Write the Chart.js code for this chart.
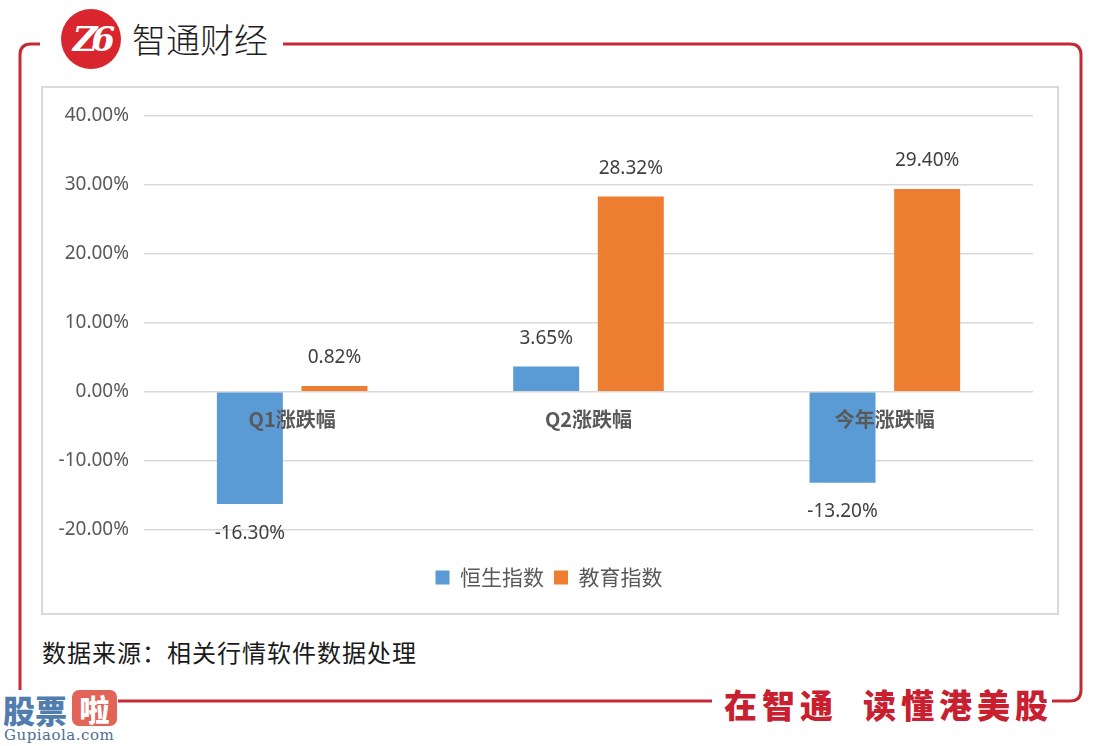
<!DOCTYPE html>
<html lang="zh">
<head>
<meta charset="UTF-8">
<title>恒生指数 vs 教育指数 涨跌幅</title>
<script src="https://cdn.jsdelivr.net/npm/chart.js"></script>
<style>
  body { margin: 0; background: #fff; }
  #page { position: relative; width: 1112px; height: 746px; overflow: hidden; background: #fff; }
  #frame { position: absolute; left: 0; top: 0; }
  #logo { position: absolute; left: 61px; top: 9px; width: 60px; height: 60px; border-radius: 50%; background: #d9262e;
          color: #fff; font: italic bold 34px "DejaVu Serif"; text-align: center; line-height: 60px; letter-spacing: -6px; }
  #brand { position: absolute; left: 132px; top: 14px; font: 300 34px "Noto Sans CJK SC"; color: #1f1f1f; }
  #box { position: absolute; left: 41px; top: 86px; width: 1018px; height: 529px; box-sizing: border-box; border: 2px solid #d9d9d9; }
  #wrap { position: absolute; left: 43px; top: 88px; width: 1014px; height: 525px; }
  #source { position: absolute; left: 42px; top: 634px; font: 24px "Noto Sans CJK SC"; color: #1a1a1a; letter-spacing: 1px; }
  #slogan { position: absolute; left: 724px; top: 680px; font: 900 33px "Noto Sans CJK SC"; color: #c8202f; letter-spacing: 5px; white-space: pre; }
  #wm1 { position: absolute; left: 3px; top: 686px; font: 900 32px "Noto Sans CJK SC"; color: #3f6fa6; opacity: 0.9; }
  #wm2 { position: absolute; left: 72px; top: 690px; width: 45px; height: 36px; border-radius: 7px; background: #e0574c;
         font: 900 30px "Noto Sans CJK SC"; color: #fff; text-align: center; line-height: 36px; opacity: 0.92; }
  #wm3 { position: absolute; left: 4px; top: 726px; font: 15px "DejaVu Serif"; color: #4d6f93; letter-spacing: 0.5px; }
</style>
</head>
<body>
<div id="page">
  <svg id="frame" width="1112" height="746">
    <g fill="none" stroke="#c42a35" stroke-width="3">
      <path d="M 40 44 L 31 44 Q 20 44 20 55 L 20 690" />
      <path d="M 283 44 L 1070 44 Q 1081 44 1081 55 L 1081 690 Q 1081 701 1070 701 L 1052 701" />
      <path d="M 118 701 L 712 701" />
    </g>
  </svg>
  <div id="logo">Z6</div>
  <div id="brand">智通财经</div>
  <div id="box"></div>
  <div id="wrap"><canvas id="chart" width="1014" height="525"></canvas></div>
  <div id="source">数据来源：相关行情软件数据处理</div>
  <div id="slogan">在智通  读懂港美股</div>
  <div id="wm1">股票</div>
  <div id="wm2">啦</div>
  <div id="wm3">Gupiaola.com</div>
</div>
<script>
  const categories = ['Q1涨跌幅', 'Q2涨跌幅', '今年涨跌幅'];
  const seriesNames = ['恒生指数', '教育指数'];
  const hsiValues = [-16.30, 3.65, -13.20];
  const eduValues = [0.82, 28.32, 29.40];
  const yMin = -20, yMax = 40, yStep = 10;

  // value labels above / below each bar
  const barLabels = {
    id: 'barLabels',
    afterDatasetsDraw(chart) {
      const ctx = chart.ctx;
      ctx.save();
      ctx.font = '19px "Noto Sans"';
      ctx.fillStyle = '#404040';
      ctx.textAlign = 'center';
      ctx.textBaseline = 'middle';
      chart.data.datasets.forEach((ds, i) => {
        chart.getDatasetMeta(i).data.forEach((bar, j) => {
          const v = ds.data[j];
          const y = v >= 0 ? bar.y - 28 : bar.y + 29;
          ctx.fillText(v.toFixed(2) + '%', bar.x, y);
        });
      });
      ctx.restore();
    }
  };

  // legend is centred on the whole box, not on the padded area
  const legendShift = {
    id: 'legendShift',
    afterLayout(chart) {
      chart.legend.left += 11;
      chart.legend.right += 11;
    }
  };

  const ctx = document.getElementById('chart').getContext('2d');
  new Chart(ctx, {
    type: 'bar',
    data: {
      labels: categories,
      datasets: [{
        label: seriesNames[0],
        data: hsiValues,
        backgroundColor: '#5B9BD5',
        barPercentage: 0.78,
        categoryPercentage: 0.571
      }, {
        label: seriesNames[1],
        data: eduValues,
        backgroundColor: '#ED7D31',
        barPercentage: 0.78,
        categoryPercentage: 0.571
      }]
    },
    options: {
      responsive: false,
      animation: false,
      layout: { padding: { top: 28, right: 24, bottom: 15, left: 0 } },
      plugins: {
        tooltip: { enabled: false },
        legend: {
          position: 'bottom',
          title: { display: true, text: '', font: { size: 12 }, padding: { top: 0, bottom: 13 } },
          labels: {
            boxWidth: 14,
            boxHeight: 14,
            padding: 10,
            color: '#595959',
            font: { family: '"Noto Sans CJK SC"', size: 21 }
          }
        }
      },
      scales: {
        x: {
          position: { y: 0 },
          grid: { display: false, drawTicks: false },
          border: { display: false },
          ticks: {
            z: 1,
            padding: 16,
            color: '#595959',
            font: { family: '"Noto Sans CJK SC"', size: 20, weight: 'bold' }
          }
        },
        y: {
          min: yMin,
          max: yMax,
          afterFit(scale) { scale.width = 101; },
          grid: { color: '#d9d9d9', lineWidth: 1.5, drawTicks: false },
          border: { display: false },
          ticks: {
            stepSize: yStep,
            padding: 15,
            color: '#595959',
            font: { family: '"Noto Sans"', size: 19 },
            callback: v => v.toFixed(2) + '%'
          }
        }
      }
    },
    plugins: [barLabels, legendShift]
  });
</script>
</body>
</html>
